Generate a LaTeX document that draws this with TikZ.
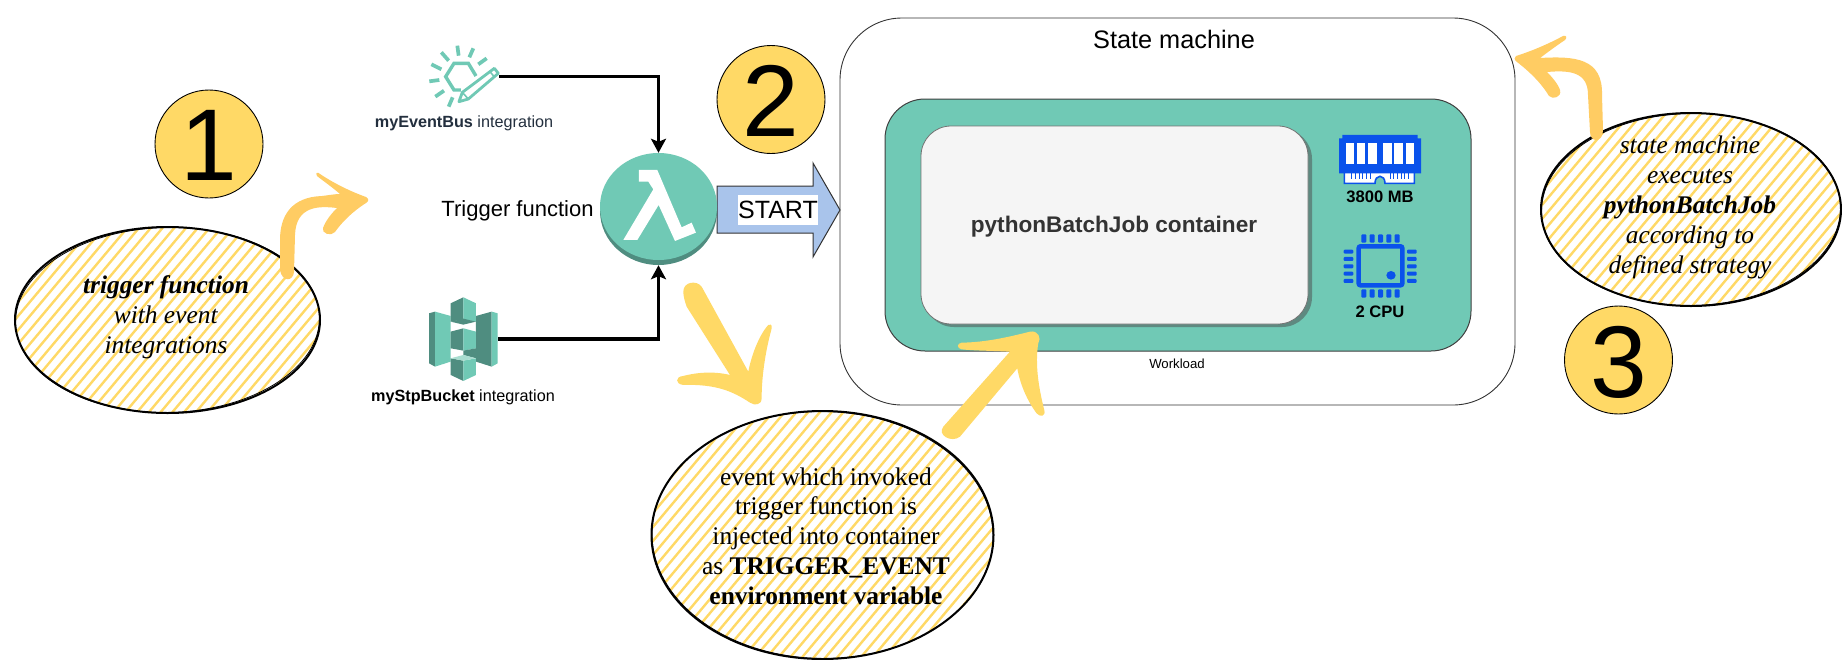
\documentclass[tikz,border=0pt]{standalone}
\usepackage{fontspec}
\setmainfont{Liberation Sans}
\newfontfamily\tms{Liberation Serif}
\usetikzlibrary{arrows.meta,shapes.geometric}
\definecolor{teal1}{HTML}{70C9B5}
\definecolor{teal2}{HTML}{4F8D80}
\definecolor{teal3}{HTML}{A9DDD0}
\definecolor{yel}{HTML}{FFD966}
\definecolor{org}{HTML}{FFCC63}
\definecolor{blu}{HTML}{0A52EB}
\definecolor{arrowblue}{HTML}{A9C4EB}
\definecolor{ebtext}{HTML}{232F3E}
\newcommand{\fsz}[1]{\fontsize{#1}{#1}\selectfont}
\newcommand{\dropdigit}[1]{\raisebox{-1.5pt}[\height][0pt]{#1}}
\newcommand{\hatchfill}[4]{%
  \begin{scope}
    \clip (#1,#2) ellipse [x radius=#3pt,y radius=#4pt];
    \foreach \d in {-207,-198,...,207}{
      \draw[hatchline] ({#1+\d*0.766-250*0.643},{#2+\d*0.643+250*0.766}) -- ({#1+\d*0.766+250*0.643},{#2+\d*0.643-250*0.766});
    }
  \end{scope}}
\tikzset{
  hatchline/.style={draw=yel,line width=2.4pt},
  sketch/.style={ellipse,draw=black,line width=2pt,inner sep=0pt},
  sketchtwo/.style={draw=black,line width=0.8pt},
  badge/.style={circle,draw=black,line width=0.9pt,fill=yel,minimum size=108pt,inner sep=0pt,font=\fsz{102}},
  conn/.style={draw=black,line width=3.1pt,-{Stealth[length=14pt,width=15pt,inset=3pt]}},
  note/.style={align=center,inner sep=0pt,text=black},
  notefont/.style={font=\tms\fontsize{25.4}{29.8}\selectfont},
  iconline/.style={draw=teal1,line width=3.7pt},
  chipline/.style={fill=blu,draw=none},
  caplabel/.style={inner sep=0pt,font=\fsz{16.2}},
}
\begin{document}
\begin{tikzpicture}[x=1pt,y=-1pt]
\useasboundingbox (0,0) rectangle (1842,659);
\fill[white] (0,0) rectangle (1842,659);

% state machine
\node[draw=black!80,line width=0.9pt,rounded corners=62pt,minimum width=675pt,minimum height=387pt,inner sep=0pt] (sm) at (1177.5,211.5) {};
\node[inner sep=0pt,font=\fsz{25.3}] (smt) at (1174,39) {State machine};
% workload
\node[draw=black!75,fill=teal1,line width=1pt,rounded corners=40pt,minimum width=586pt,minimum height=252pt,inner sep=0pt] (wl) at (1178,225) {};
\node[inner sep=0pt,font=\fsz{13.2}] (wlt) at (1177,364) {Workload};
% container
\fill[rounded corners=30pt,color=teal2!70!gray] (924,129) rectangle (1312,327);
\node[draw=black!55,fill=black!4,line width=0.8pt,rounded corners=30pt,minimum width=387pt,minimum height=198pt,inner sep=0pt] (ct) at (1114.5,225) {};
\node[inner sep=0pt,font=\bfseries\fsz{22.6},text=black!80] (ctt) at (1114,227) {pythonBatchJob container};

% RAM icon
\begin{scope}[shift={(1300,100)},x=0.3333pt,y=-0.3333pt]
  \draw[blu,line width=1.6pt,fill=white] (133,215) -- (133,250) -- (225,250) .. controls (225,222) and (255,222) .. (255,250) -- (343,250) -- (343,215) -- cycle;
  \foreach \xx in {155,166,177,188,199,210,270,281,292,303,314,325}{\draw[blu,line width=1pt] (\xx,220) -- (\xx,238);}
  \fill[blu] (117,115) -- (127,115) -- (127,105) -- (353,105) -- (353,115) -- (363,115) -- (363,220) -- (117,220) -- cycle;
  \foreach \xx/\xy in {137/163,170/196,205/230,250/275,283/308,317/342}{\fill[white] (\xx,130) rectangle (\xy,192);}
  % CPU
  \draw[blu,line width=4.6pt,rounded corners=2pt] (176,439) rectangle (307,556);
  \fill[blu] (273,526) circle [x radius=14,y radius=13];
  \foreach \xx in {184,209,234,259,284}{\fill[chipline,rounded corners=1pt] (\xx,403) rectangle (\xx+15,428);\fill[chipline,rounded corners=1pt] (\xx,568) rectangle (\xx+15,593);}
  \foreach \yy in {449,471,493,515,537}{\fill[chipline,rounded corners=1pt] (131,\yy) rectangle (160,\yy+12);\fill[chipline,rounded corners=1pt] (321,\yy) rectangle (350,\yy+12);}
\end{scope}
\node[caplabel,font=\bfseries\fsz{16.6}] (ram) at (1380,197) {3800 MB};
\node[caplabel,font=\bfseries\fsz{16.6}] (cpu) at (1380,312) {2 CPU};

% big arrow
\draw[fill=arrowblue,draw=black!80,line width=1pt,line join=miter] (717,186) -- (813,186) -- (813,163) -- (840,210) -- (813,257) -- (813,233) -- (717,233) -- cycle;
\node[fill=white,inner sep=0pt,minimum width=80pt,minimum height=30pt,font=\fsz{25}] (st) at (778,210) {START};

% lambda
\fill[teal2] (658.5,211) ellipse [x radius=58.5pt,y radius=54pt];
\fill[teal1] (658.5,206.5) ellipse [x radius=58.5pt,y radius=53.5pt];
\node[ellipse,minimum width=117pt,minimum height=112pt,inner sep=0pt] (lam) at (658.5,209) {};
\begin{scope}[shift={(400,30)},x=0.3333pt,y=-0.3333pt]
  \fill[white] (717,420) -- (772,420) -- (845,592) -- (875,578) -- (888,608) -- (825,633) -- (776,525) -- (712,630) -- (670,630) -- (760,478) -- (745,455) -- (717,455) -- cycle;
\end{scope}

% event bus icon
\begin{scope}[shift={(400,30)},x=0.3333pt,y=-0.3333pt]
  \foreach \ax/\ay/\bx/\by in {172/47/176/77,124/67/146/92,220/55/208/82,260/85/235/103,94/103/124/118,88/154/118/150,106/200/132/182,158/202/146/230}{\draw[iconline] (\ax,\ay) -- (\bx,\by);}
  \draw[iconline,line width=3.4pt] (228,138) -- (205,100) -- (162,100) -- (137,140) -- (162,180) -- (183,180);
  \draw[iconline,line width=2.8pt,line join=round] (177,215) -- (187,187) -- (283,115) -- (295,130) -- (205,207) -- cycle;
  \draw[iconline,line width=1.6pt] (187,187) -- (205,207) (270,125) -- (284,142);
\end{scope}
\node[minimum width=70pt,minimum height=1pt,inner sep=0pt] (eb) at (464,76.7) {};
\node[caplabel,text=ebtext] (ebt) at (464,123) {\textbf{myEventBus} integration};

% bucket icon
\begin{scope}[shift={(400,30)},x=0.3333pt,y=-0.3333pt]
  \fill[teal2] (87,850) -- (105,845) -- (105,1010) -- (87,1000) -- cycle;
  \fill[teal1] (105,845) -- (152,858) -- (152,995) -- (105,1010) -- cycle;
  \fill[teal2] (228,858) -- (275,845) -- (275,1010) -- (228,995) -- cycle;
  \fill[teal1] (275,845) -- (293,850) -- (293,1000) -- (275,1010) -- cycle;
  \fill[teal2] (152,820) -- (190,802) -- (190,868) -- (152,875) -- cycle;
  \fill[teal1] (190,802) -- (228,820) -- (228,875) -- (190,868) -- cycle;
  \fill[teal2] (152,875) -- (190,866) -- (228,875) -- (190,884) -- cycle;
  \fill[teal2] (152,905) -- (190,895) -- (190,962) -- (152,955) -- cycle;
  \fill[teal1] (190,895) -- (228,905) -- (228,955) -- (190,962) -- cycle;
  \fill[teal2] (190,962) -- (228,955) -- (228,985) -- (190,975) -- cycle;
  \fill[teal2] (152,985) -- (190,992) -- (190,1053) -- (152,1035) -- cycle;
  \fill[teal1] (190,992) -- (228,985) -- (228,1035) -- (190,1053) -- cycle;
  \fill[teal3] (152,985) -- (190,975) -- (228,985) -- (190,992) -- cycle;
\end{scope}
\node[minimum width=69pt,minimum height=1pt,inner sep=0pt] (bk) at (463.5,339) {};
\node[caplabel,text=black] (bkt) at (463,397) {\textbf{myStpBucket} integration};

\node[inner sep=0pt,font=\fsz{22}] (tf) at (517.5,211) {Trigger function};

% connectors
\draw[conn] (eb.east) -| (lam.north);
\draw[conn] (bk.east) -| (lam.south);

% badges
\node[badge] (b1) at (209,144) {\dropdigit{1}};
\node[badge] (b2) at (771,99.5) {\dropdigit{2}};
\node[badge] (b3) at (1618.5,360) {\dropdigit{3}};

% note ellipses
\hatchfill{167.5}{320}{152.5}{93}
\draw[sketchtwo,rotate around={1.2:(167.5,320)}] (167.5,320) ellipse [x radius=152pt,y radius=92.5pt];
\node[sketch,minimum width=305pt,minimum height=186pt] (e1) at (167.5,320) {};
\node[note,notefont] (n1) at (166,317.5) {\textbf{\textit{trigger function}}\\\textit{with event}\\\textit{integrations}};

\hatchfill{822.5}{535}{171}{124}
\draw[sketchtwo,rotate around={-0.8:(822.5,535)}] (822.5,535) ellipse [x radius=170.5pt,y radius=123.5pt];
\node[sketch,minimum width=342pt,minimum height=248pt] (e2) at (822.5,535) {};
\node[note,notefont] (n2) at (826,536) {event which invoked\\trigger function is\\injected into container\\as \textbf{TRIGGER\_EVENT}\\\textbf{environment variable}};

\hatchfill{1691}{209.5}{150}{96.5}
\draw[sketchtwo,rotate around={1:(1691,209.5)}] (1691,209.5) ellipse [x radius=149.5pt,y radius=96pt];
\node[sketch,minimum width=300pt,minimum height=193pt] (e3) at (1691,209.5) {};
\node[note,notefont] (n3) at (1690,207.5) {\textit{state machine}\\\textit{executes}\\\textbf{\textit{pythonBatchJob}}\\\textit{according to}\\\textit{defined strategy}};

% hand drawn arrows
\fill[org] (280,270) -- (280,240) .. controls (280,215) and (292,197) .. (322,196) .. controls (330,195) and (335,194) .. (340,194) .. controls (332,187) and (322,180) .. (317,176) .. controls (315,172) and (318,172) .. (320,174) .. controls (335,184) and (352,192) .. (366,197) .. controls (369,199) and (369,201) .. (366,203) .. controls (352,212) and (342,222) .. (335,232) .. controls (331,237) and (321,233) .. (323,228) .. controls (326,220) and (332,213) .. (337,208) .. controls (320,206) and (296,205) .. (295,235) -- (294,272) .. controls (293,282) and (282,282) .. (280,270) -- cycle;

\fill[org] (1516,56) .. controls (1535,50) and (1552,42) .. (1563,36) .. controls (1567,35) and (1567,38) .. (1565,40) .. controls (1556,46) and (1548,52) .. (1540,58) .. controls (1575,56) and (1603,58) .. (1602,95) -- (1603,130) .. controls (1603,143) and (1590,143) .. (1590,132) -- (1588,95) .. controls (1588,72) and (1570,70) .. (1547,72) .. controls (1552,77) and (1558,84) .. (1560,90) .. controls (1562,97) and (1553,100) .. (1549,96) .. controls (1542,84) and (1530,72) .. (1517,62) .. controls (1514,60) and (1514,57) .. (1516,56) -- cycle;

\begin{scope}[shift={(400,30)},x=0.3333pt,y=-0.3333pt]
\fill[yel] (850,785) .. controls (850,755) and (890,750) .. (905,770) -- (1045,1025) .. controls (1060,950) and (1090,900) .. (1105,885) .. controls (1118,880) and (1116,892) .. (1114,900) .. controls (1100,950) and (1085,1030) .. (1085,1105) .. controls (1085,1125) and (1065,1128) .. (1050,1118) .. controls (1000,1085) and (950,1062) .. (850,1065) .. controls (825,1062) and (825,1040) .. (850,1038) .. controls (900,1025) and (950,1025) .. (990,1035) -- (860,830) .. controls (855,815) and (850,800) .. (850,785) -- cycle;
\end{scope}

\begin{scope}[shift={(640,280)},x=0.3333pt,y=-0.3333pt]
\fill[yel] (910,440) -- (1110,215) .. controls (1050,212) and (1000,212) .. (965,208) .. controls (950,205) and (950,190) .. (965,188) .. controls (1040,187) and (1110,170) .. (1170,155) .. controls (1195,150) and (1205,175) .. (1195,190) .. controls (1185,250) and (1195,320) .. (1213,390) .. controls (1218,410) and (1200,412) .. (1190,400) .. controls (1160,360) and (1140,310) .. (1132,265) -- (960,470) .. controls (935,490) and (890,465) .. (910,440) -- cycle;
\end{scope}
\end{tikzpicture}
\end{document}
